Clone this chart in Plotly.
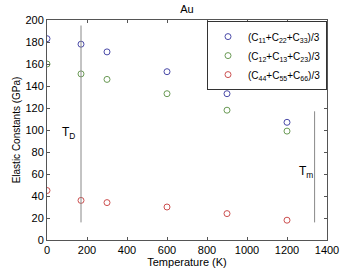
import plotly.graph_objects as go

temps = [0, 170, 300, 600, 900, 1200]
c_diag = [183, 178, 171, 153, 133, 107]
c_off = [160, 151, 146, 133, 118, 99]
c_shear = [45, 36, 34, 30, 24, 18]
series_names = ["(C<sub>11</sub>+C<sub>22</sub>+C<sub>33</sub>)/3",
                "(C<sub>12</sub>+C<sub>13</sub>+C<sub>23</sub>)/3",
                "(C<sub>44</sub>+C<sub>55</sub>+C<sub>66</sub>)/3"]
series_colors = ["#4a4aa8", "#6a9a55", "#cc5050"]
td_x = [170, 170]
td_y = [16, 195]
tm_x = [1338, 1338]
tm_y = [16, 117]

fig = go.Figure()
for i, (vals, name, col) in enumerate(zip([c_diag, c_off, c_shear], series_names, series_colors)):
    fig.add_trace(go.Scatter(x=temps, y=vals, mode="markers", name=name, legendgroup=f"g{i}",
                             marker=dict(symbol="circle-open", size=6, color=col, line=dict(width=1))))
fig.add_trace(go.Scatter(x=td_x, y=td_y, mode="lines", line=dict(color="#888888", width=1), showlegend=False))
fig.add_trace(go.Scatter(x=tm_x, y=tm_y, mode="lines", line=dict(color="#888888", width=1), showlegend=False))

fig.add_annotation(x=108, y=97, text="T<sub>D</sub>", showarrow=False, font=dict(size=12, color="black"))
fig.add_annotation(x=1295, y=62, text="T<sub>m</sub>", showarrow=False, font=dict(size=12, color="black"))

axis_common = dict(showline=True, linecolor="#555555", linewidth=1, mirror="ticks",
                   ticks="inside", ticklen=3, tickcolor="#555555", showgrid=False, zeroline=False,
                   tickfont=dict(size=11, color="black"), automargin=False)
fig.update_layout(
    width=360, height=270,
    margin=dict(l=47, r=33, t=20, b=30),
    paper_bgcolor="white", plot_bgcolor="white",
    font=dict(family="Liberation Sans, Arial, sans-serif", size=11, color="black"),
    title=dict(text="Au", x=0.5, xref="paper", y=0.965, yanchor="middle", font=dict(size=11)),
    xaxis=dict(range=[0, 1400], dtick=200, title=dict(text="Temperature (K)", standoff=0, font=dict(size=11)), **axis_common),
    yaxis=dict(range=[0, 200], dtick=20, title=dict(text="Elastic Constants (GPa)", standoff=2, font=dict(size=10)), **axis_common),
    legend=dict(x=1, y=0.995, xanchor="right", yanchor="top", bordercolor="#333333", borderwidth=1,
                bgcolor="white", font=dict(size=10), itemwidth=30, tracegroupgap=0),
)
fig.write_html("out.html")
